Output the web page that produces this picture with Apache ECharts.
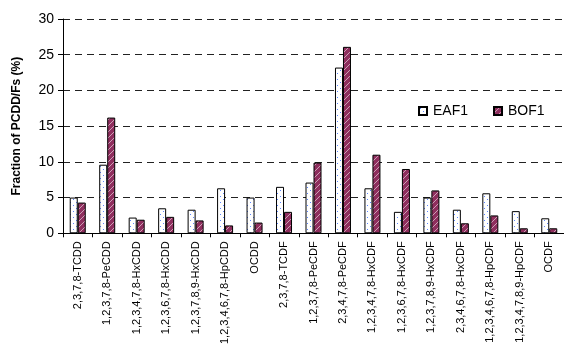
<!DOCTYPE html>
<html>
<head>
<meta charset="utf-8">
<script src="https://cdn.jsdelivr.net/npm/echarts@6/dist/echarts.min.js"></script>
<style>
  html, body { margin: 0; padding: 0; background: #fff; }
  #chart { width: 564px; height: 347px; }
</style>
</head>
<body>
<div id="chart"></div>
<script>
// Congener profile: share of each 2,3,7,8-substituted PCDD/F (%)
const congeners = [
  '2,3,7,8-TCDD', '1,2,3,7,8-PeCDD', '1,2,3,4,7,8-HxCDD', '1,2,3,6,7,8-HxCDD',
  '1,2,3,7,8,9-HxCDD', '1,2,3,4,6,7,8-HpCDD', 'OCDD', '2,3,7,8-TCDF',
  '1,2,3,7,8-PeCDF', '2,3,4,7,8-PeCDF', '1,2,3,4,7,8-HxCDF', '1,2,3,6,7,8-HxCDF',
  '1,2,3,7,8,9-HxCDF', '2,3,4,6,7,8-HxCDF', '1,2,3,4,6,7,8-HpCDF', '1,2,3,4,7,8,9-HpCDF',
  'OCDF'
];
const eaf1 = [5.0, 9.6, 2.2, 3.5, 3.3, 6.3, 5.0, 6.5, 7.1, 23.2, 6.3, 3.0, 5.0, 3.3, 5.6, 3.1, 2.1];
const bof1 = [4.3, 16.2, 1.9, 2.3, 1.8, 1.1, 1.5, 3.0, 9.9, 26.1, 11.0, 9.0, 6.0, 1.4, 2.5, 0.7, 0.7];
const yTicks = { min: 0, max: 30, step: 5 };

// Fill patterns: white with blue dots, plum with white diagonal hatching
function dotPattern() {
  const c = document.createElement('canvas');
  c.width = 6; c.height = 6;
  const g = c.getContext('2d');
  g.fillStyle = '#ffffff';
  g.fillRect(0, 0, 6, 6);
  g.fillStyle = '#5b84ff';
  g.fillRect(1, 1, 1, 1);
  g.fillRect(4, 4, 1, 1);
  return c;
}
function hatchPattern() {
  const c = document.createElement('canvas');
  c.width = 6; c.height = 6;
  const g = c.getContext('2d');
  g.fillStyle = '#8f2e5e';
  g.fillRect(0, 0, 6, 6);
  g.strokeStyle = 'rgba(255,255,255,0.55)';
  g.lineWidth = 1;
  g.beginPath();
  g.moveTo(-1, 7); g.lineTo(7, -1);
  g.moveTo(-4, 4); g.lineTo(4, -4);
  g.moveTo(2, 10); g.lineTo(10, 2);
  g.stroke();
  return c;
}

const font = "'Liberation Sans', Arial, sans-serif";
const chart = echarts.init(document.getElementById('chart'), null, { renderer: 'canvas' });

chart.setOption({
  animation: false,
  backgroundColor: '#ffffff',
  grid: { left: 63, right: -1, top: 19, bottom: 110.5, containLabel: false },
  legend: {
    left: 418, top: 104, padding: 0,
    icon: 'rect',
    itemWidth: 8, itemHeight: 8, itemGap: 25,
    textStyle: { fontFamily: font, fontSize: 14, color: '#000', padding: [0, 0, 0, 1] },
    data: ['EAF1', 'BOF1']
  },
  xAxis: {
    type: 'category',
    data: congeners,
    axisLine: { lineStyle: { color: '#000', width: 1 } },
    axisTick: { show: true, length: 4, lineStyle: { color: '#000' } },
    axisLabel: { rotate: 90, fontFamily: font, fontSize: 11, color: '#000', margin: 8, interval: 0 }
  },
  yAxis: {
    type: 'value',
    min: yTicks.min, max: yTicks.max, interval: yTicks.step,
    name: 'Fraction of PCDD/Fs (%)',
    nameLocation: 'middle', nameGap: 40, nameRotate: 90,
    nameTextStyle: { fontFamily: font, fontSize: 12, fontWeight: 'bold', color: '#000' },
    axisLine: { show: true, lineStyle: { color: '#000', width: 1 } },
    axisTick: { show: true, length: 5, lineStyle: { color: '#000' } },
    axisLabel: { fontFamily: font, fontSize: 14, color: '#000', margin: 9 },
    splitLine: { show: true, lineStyle: { color: '#222', type: [7, 5], width: 1 } }
  },
  series: [
    {
      name: 'EAF1', type: 'bar', data: eaf1,
      barWidth: 8, barGap: '0%',
      itemStyle: { color: { image: dotPattern(), repeat: 'repeat' }, borderColor: '#000', borderWidth: 1 }
    },
    {
      name: 'BOF1', type: 'bar', data: bof1,
      barWidth: 8, barGap: '0%',
      itemStyle: { color: { image: hatchPattern(), repeat: 'repeat' }, borderColor: '#000', borderWidth: 1 }
    }
  ]
});
</script>
</body>
</html>
